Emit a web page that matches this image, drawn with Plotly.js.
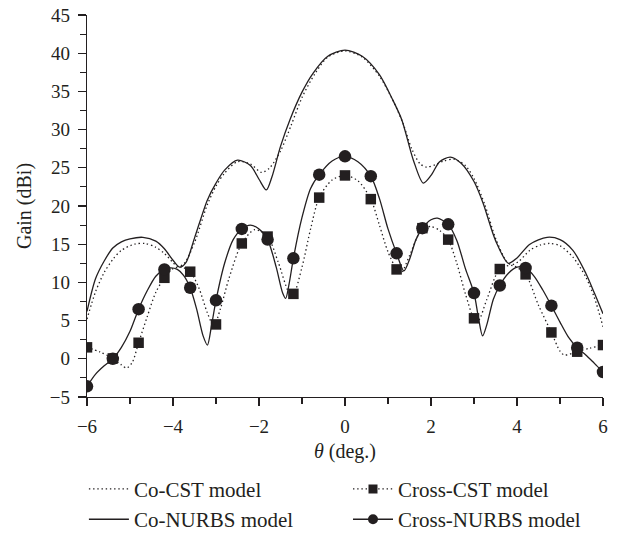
<!DOCTYPE html>
<html>
<head>
<meta charset="utf-8">
<script src="https://cdn.plot.ly/plotly-3.0.1.min.js"></script>
<style>html,body{margin:0;padding:0;background:#fff;}#chart{width:623px;height:535px;}</style>
</head>
<body>
<div id="chart"></div>
<script>
// Co-NURBS model (solid)
const coNurbsTheta = [-6,-5.8,-5.6,-5.4,-5.2,-5.0,-4.7,-4.4,-4.2,-4.0,-3.85,-3.7,-3.5,-3.2,-3.0,-2.8,-2.5,-2.2,-2.0,-1.83,-1.7,-1.5,-1.28,-1.0,-0.74,-0.4,0,0.4,0.8,1.1,1.32,1.59,1.82,2.0,2.2,2.45,2.7,3.0,3.21,3.5,3.8,4.0,4.3,4.7,5.0,5.3,5.6,5.8,6.0];
const coNurbsGain  = [6.2,10.5,12.8,14.5,15.3,15.7,15.9,15.4,14.4,12.9,12.0,12.6,15.8,20.8,23.0,24.7,26.0,25.3,23.5,22.1,23.8,27.8,31.3,34.9,37.4,39.6,40.4,39.6,37.2,34.0,31.3,26.0,23.0,24.0,25.8,26.4,25.6,23.2,20.4,15.5,12.5,13.2,15.0,15.9,15.6,14.2,11.2,8.6,5.9];
// Co-CST model (dotted)
const coCstTheta = [-6,-5.8,-5.6,-5.4,-5.2,-4.9,-4.65,-4.4,-4.2,-4.0,-3.9,-3.75,-3.5,-3.2,-3.0,-2.8,-2.5,-2.2,-1.94,-1.75,-1.5,-1.25,-1.0,-0.7,-0.4,0,0.4,0.8,1.1,1.35,1.55,1.75,1.9,2.1,2.3,2.55,2.8,3.0,3.25,3.5,3.75,3.87,4.05,4.3,4.55,4.76,5.0,5.3,5.6,5.8,6.0];
const coCstGain  = [5.2,8.8,11.3,13.0,14.2,15.0,15.1,14.6,13.8,12.6,12.1,12.4,15.2,20.2,22.6,24.3,25.8,25.5,24.4,25.0,27.2,30.6,34.2,37.3,39.5,40.3,39.5,37.0,34.0,30.8,27.5,25.5,25.1,25.4,25.9,26.1,25.3,23.6,20.2,15.8,12.8,12.3,12.8,14.2,14.9,15.1,14.8,13.3,10.7,8.0,4.2];
// Cross-NURBS model: curve and markers
const crNurbsTheta = [-6,-5.8,-5.6,-5.4,-5.2,-5.0,-4.8,-4.6,-4.4,-4.2,-4.05,-3.9,-3.75,-3.6,-3.45,-3.3,-3.2,-3.1,-3.0,-2.8,-2.6,-2.4,-2.2,-2.0,-1.8,-1.6,-1.45,-1.38,-1.3,-1.2,-1.0,-0.8,-0.6,-0.3,0,0.3,0.6,0.8,1.0,1.2,1.37,1.5,1.65,1.8,2.0,2.15,2.4,2.6,2.8,3.0,3.1,3.2,3.3,3.45,3.6,3.8,4.0,4.2,4.4,4.6,4.8,5.0,5.2,5.4,5.6,5.8,6.0];
const crNurbsGain  = [-3.6,-2.0,-0.9,0.0,1.5,3.6,6.5,8.9,10.8,11.7,11.9,11.7,10.9,9.3,6.5,3.0,1.8,4.5,7.65,12.5,15.6,17.0,17.5,17.0,15.6,12.0,8.6,7.9,9.8,13.15,18.5,22.3,24.1,25.9,26.5,25.8,23.9,21.0,17.0,13.8,11.5,13.0,15.6,17.1,18.2,18.4,17.6,15.5,11.8,8.6,5.5,3.0,4.5,7.8,9.6,11.2,12.0,11.9,10.8,9.0,6.95,4.8,2.8,1.45,0.5,-0.6,-1.73];
const sampleTheta = [-6,-5.4,-4.8,-4.2,-3.6,-3.0,-2.4,-1.8,-1.2,-0.6,0,0.6,1.2,1.8,2.4,3.0,3.6,4.2,4.8,5.4,6];
const crNurbsMarks = [-3.6,0,6.5,11.7,9.3,7.65,17.0,15.6,13.15,24.1,26.5,23.9,13.8,17.1,17.6,8.6,9.6,11.9,6.95,1.45,-1.73];
// Cross-CST model: curve and markers
const crCstTheta = [-6,-5.7,-5.4,-5.2,-5.08,-4.95,-4.8,-4.6,-4.4,-4.2,-4.0,-3.8,-3.6,-3.4,-3.2,-3.05,-2.9,-2.7,-2.4,-2.1,-1.8,-1.55,-1.3,-1.2,-1.0,-0.8,-0.6,-0.3,0,0.3,0.6,0.8,1.0,1.2,1.3,1.5,1.8,2.0,2.2,2.4,2.6,2.8,3.0,3.1,3.3,3.6,3.9,4.2,4.5,4.8,5.0,5.1,5.4,5.7,6.0];
const crCstGain  = [1.5,0.9,0.05,-0.8,-1.2,-0.5,2.1,5.5,8.7,10.6,11.8,12.0,11.4,9.3,6.0,4.3,6.5,10.5,15.1,16.9,16.0,12.6,8.7,8.5,12.0,17.0,21.1,23.4,24.0,23.3,20.9,17.5,14.0,11.7,11.2,13.5,17.1,17.3,16.8,15.6,12.5,8.5,5.3,5.0,7.8,11.75,12.2,11.05,7.0,3.45,1.0,0.5,0.93,1.4,1.8];
const crCstMarks = [1.5,0.05,2.1,10.6,11.4,4.5,15.1,16.0,8.5,21.1,24.0,20.9,11.7,17.1,15.6,5.3,11.75,11.05,3.45,0.93,1.8];
const xTicks = [-6,-4,-2,0,2,4,6];
const yTicks = [-5,0,5,10,15,20,25,30,35,40,45];

const serif = "Liberation Serif, Times New Roman, serif";
const ink = '#231f20';
const lw = 1.3;
const sm = 0.8;
const dotted = '1.4px,2.8px';

const traces = [
  {x: coCstTheta, y: coCstGain, mode:'lines', name:'Co-CST model', legend:'legend',
   line:{color:ink, width:lw, dash:dotted, shape:'spline', smoothing:sm}},
  {x: coNurbsTheta, y: coNurbsGain, mode:'lines', name:'Co-NURBS model', legend:'legend',
   line:{color:ink, width:lw, shape:'spline', smoothing:sm}},
  {x: crCstTheta, y: crCstGain, mode:'lines', showlegend:false,
   line:{color:ink, width:lw, dash:dotted, shape:'spline', smoothing:sm}},
  {x: sampleTheta, y: crCstMarks, mode:'markers', showlegend:false,
   marker:{symbol:'square', size:10.5, color:ink}},
  {x: crNurbsTheta, y: crNurbsGain, mode:'lines', showlegend:false,
   line:{color:ink, width:lw, shape:'spline', smoothing:sm}},
  {x: sampleTheta, y: crNurbsMarks, mode:'markers', showlegend:false,
   marker:{symbol:'circle', size:12.5, color:ink}},
  {x:[null], y:[null], mode:'lines+markers', name:'Cross-CST model', legend:'legend2',
   line:{color:ink, width:lw, dash:dotted}, marker:{symbol:'square', size:9, color:ink}},
  {x:[null], y:[null], mode:'lines+markers', name:'Cross-NURBS model', legend:'legend2',
   line:{color:ink, width:lw}, marker:{symbol:'circle', size:10, color:ink}}
];

const layout = {
  width:623, height:535,
  margin:{l:87, r:20, t:15, b:138, autoexpand:false},
  paper_bgcolor:'#fff', plot_bgcolor:'#fff',
  font:{family:serif, size:20, color:ink},
  showlegend:true,
  xaxis:{range:[-6,6], tickvals:xTicks, ticktext:xTicks.map(v=>v<0?'\u2212'+Math.abs(v):String(v)),
    ticks:'outside', ticklen:8, tickwidth:1.2, tickcolor:ink, ticklabelstandoff:4, automargin:false,
    showline:true, linecolor:ink, linewidth:1.2, showgrid:false, zeroline:false,
    minor:{dtick:1, ticks:'outside', ticklen:6, tickwidth:1.1, tickcolor:ink, showgrid:false},
    tickfont:{family:serif, size:19, color:ink},
    title:{text:'<i>θ</i> (deg.)', font:{family:serif, size:20, color:ink}, standoff:8}},
  yaxis:{range:[-5,45], tickvals:yTicks, ticktext:yTicks.map(v=>v<0?'\u2212'+Math.abs(v):String(v)),
    ticks:'outside', ticklen:8, tickwidth:1.2, tickcolor:ink, ticklabelstandoff:4, automargin:false,
    showline:true, linecolor:ink, linewidth:1.2, showgrid:false, zeroline:false,
    minor:{dtick:2.5, ticks:'outside', ticklen:6, tickwidth:1.1, tickcolor:ink, showgrid:false},
    tickfont:{family:serif, size:19, color:ink},
    title:{text:'Gain (dBi)', font:{family:serif, size:20, color:ink}, standoff:12}},
  legend:{x:-0.006, y:-0.188, xanchor:'left', yanchor:'top',
    orientation:'v', itemwidth:40,
    bgcolor:'rgba(0,0,0,0)', font:{family:serif, size:21, color:ink}, tracegroupgap:0},
  legend2:{x:0.5058, y:-0.188, xanchor:'left', yanchor:'top',
    orientation:'v', itemwidth:40,
    bgcolor:'rgba(0,0,0,0)', font:{family:serif, size:21, color:ink}, tracegroupgap:0}
};

Plotly.newPlot('chart', traces, layout, {displayModeBar:false, staticPlot:true});
</script>
</body>
</html>
